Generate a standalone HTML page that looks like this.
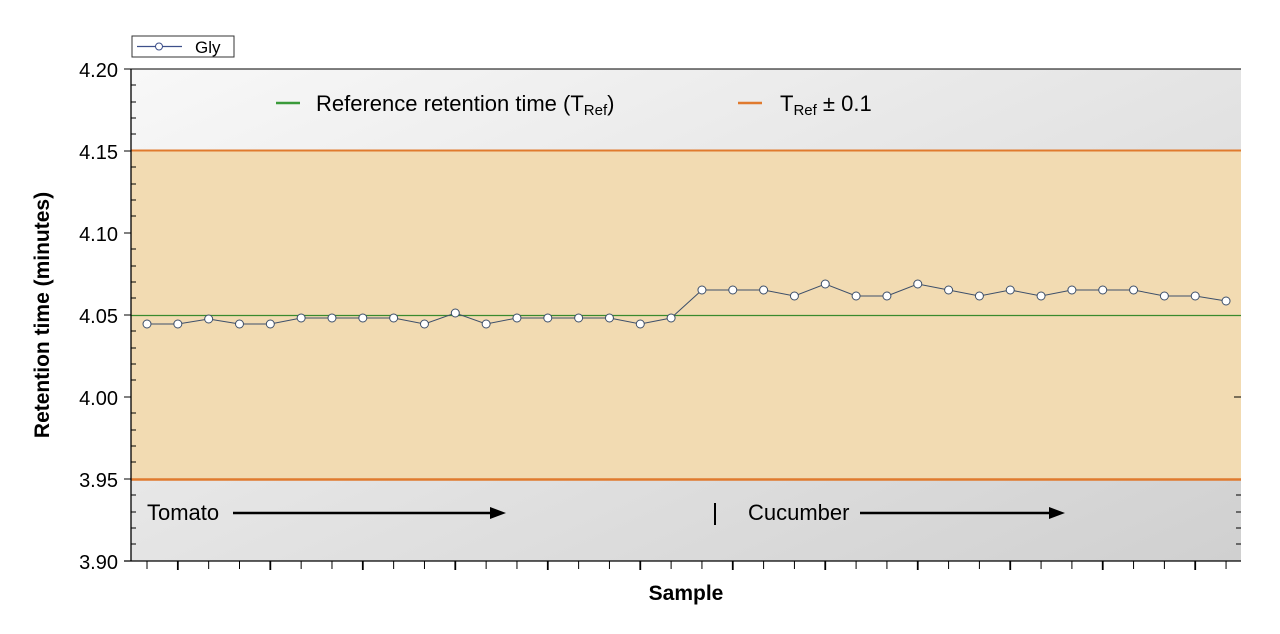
<!DOCTYPE html>
<html><head><style>body{margin:0;background:#fff}svg{display:block;font-family:"Liberation Sans",Arial,sans-serif}</style></head><body>
<svg width="1280" height="634" viewBox="0 0 1280 634">
<defs>
<linearGradient id="bg" x1="0" y1="0" x2="1" y2="1"><stop offset="0" stop-color="#f8f8f8"/><stop offset="1" stop-color="#d0d0d0"/></linearGradient>
</defs>
<rect x="131" y="69" width="1110" height="492" fill="url(#bg)"/>
<rect x="131" y="151" width="1110" height="328" fill="#f2dbb2"/>
<line x1="131" y1="150.5" x2="1241" y2="150.5" stroke="#e07a2e" stroke-width="2"/>
<line x1="131" y1="479.5" x2="1241" y2="479.5" stroke="#e07a2e" stroke-width="2.5"/>
<line x1="131" y1="315.5" x2="1241" y2="315.5" stroke="#3a8a2e" stroke-width="1.2"/>
<line x1="131" y1="69" x2="131" y2="561" stroke="#000" stroke-width="1.3"/>
<line x1="124" y1="561" x2="1241" y2="561" stroke="#000" stroke-width="1.3"/>
<line x1="124" y1="69" x2="1241" y2="69" stroke="#000" stroke-width="1"/>
<g stroke="#000" stroke-width="1">
<line x1="124" y1="151" x2="131" y2="151"/><line x1="124" y1="233" x2="131" y2="233"/><line x1="124" y1="315" x2="131" y2="315"/><line x1="124" y1="397" x2="131" y2="397"/><line x1="124" y1="479" x2="131" y2="479"/>
<line x1="131" y1="85" x2="136" y2="85"/><line x1="131" y1="102" x2="136" y2="102"/><line x1="131" y1="118" x2="136" y2="118"/><line x1="131" y1="134" x2="136" y2="134"/>
<line x1="131" y1="167" x2="136" y2="167"/><line x1="131" y1="184" x2="136" y2="184"/><line x1="131" y1="200" x2="136" y2="200"/><line x1="131" y1="216" x2="136" y2="216"/>
<line x1="131" y1="249" x2="136" y2="249"/><line x1="131" y1="266" x2="136" y2="266"/><line x1="131" y1="282" x2="136" y2="282"/><line x1="131" y1="298" x2="136" y2="298"/>
<line x1="131" y1="331" x2="136" y2="331"/><line x1="131" y1="348" x2="136" y2="348"/><line x1="131" y1="364" x2="136" y2="364"/><line x1="131" y1="380" x2="136" y2="380"/>
<line x1="131" y1="413" x2="136" y2="413"/><line x1="131" y1="430" x2="136" y2="430"/><line x1="131" y1="446" x2="136" y2="446"/><line x1="131" y1="462" x2="136" y2="462"/>
<line x1="131" y1="495" x2="136" y2="495"/><line x1="131" y1="512" x2="136" y2="512"/><line x1="131" y1="528" x2="136" y2="528"/><line x1="131" y1="544" x2="136" y2="544"/>
<line x1="1234" y1="397" x2="1241" y2="397"/>
<line x1="1236" y1="495" x2="1241" y2="495"/><line x1="1236" y1="512" x2="1241" y2="512"/><line x1="1236" y1="528" x2="1241" y2="528"/><line x1="1236" y1="544" x2="1241" y2="544"/>
</g>
<g id="xt" stroke="#000" stroke-width="1"></g>
<g font-size="20" text-anchor="end" fill="#000">
<text x="118" y="77">4.20</text><text x="118" y="159">4.15</text><text x="118" y="241">4.10</text><text x="118" y="323">4.05</text><text x="118" y="405">4.00</text><text x="118" y="487">3.95</text><text x="118" y="569">3.90</text>
</g>
<text x="686" y="600" font-size="21" font-weight="bold" text-anchor="middle">Sample</text>
<text transform="translate(49,315) rotate(-90)" font-size="21" font-weight="bold" text-anchor="middle">Retention time (minutes)</text>
<rect x="132" y="36" width="102" height="21" fill="#fff" stroke="#333" stroke-width="1"/>
<line x1="137" y1="46.5" x2="182" y2="46.5" stroke="#3d4f8a" stroke-width="1.2"/>
<circle cx="159" cy="46.5" r="3.5" fill="#fff" stroke="#3d4f8a"/>
<text x="195" y="53" font-size="17">Gly</text>
<line x1="276" y1="103" x2="300" y2="103" stroke="#3a9a3a" stroke-width="2.5"/>
<text x="316" y="111" font-size="22">Reference retention time (T<tspan font-size="15" dy="4">Ref</tspan><tspan dy="-4">)</tspan></text>
<line x1="738" y1="103" x2="762" y2="103" stroke="#e07a2e" stroke-width="2.5"/>
<text x="780" y="111" font-size="22">T<tspan font-size="15" dy="4">Ref</tspan><tspan dy="-4"> ± 0.1</tspan></text>
<text x="147" y="520" font-size="22">Tomato</text>
<line x1="233" y1="513" x2="492" y2="513" stroke="#000" stroke-width="2.5"/>
<polygon points="490,507 506,513 490,519" fill="#000"/>
<line x1="715" y1="503" x2="715" y2="525" stroke="#000" stroke-width="2"/>
<text x="748" y="520" font-size="22">Cucumber</text>
<line x1="860" y1="513" x2="1051" y2="513" stroke="#000" stroke-width="2.5"/>
<polygon points="1049,507 1065,513 1049,519" fill="#000"/>
<g id="data"></g>
<script>
var ys=[324,324,319,324,324,318,318,318,318,324,313,324,318,318,318,318,324,318,290,290,290,296,284,296,296,284,290,296,290,296,290,290,290,296,296,301];
var ns="http://www.w3.org/2000/svg",g=document.getElementById('data'),xt=document.getElementById('xt');
var pts=ys.map(function(y,i){return [147+i*30.83,y]});
var pl=document.createElementNS(ns,'polyline');
pl.setAttribute('points',pts.map(function(p){return p.join(',')}).join(' '));
pl.setAttribute('fill','none');pl.setAttribute('stroke','#3d4f6a');pl.setAttribute('stroke-width','1');g.appendChild(pl);
pts.forEach(function(p,i){var c=document.createElementNS(ns,'circle');c.setAttribute('cx',p[0]);c.setAttribute('cy',p[1]);c.setAttribute('r','4');c.setAttribute('fill','#fff');c.setAttribute('stroke','#3d4f6a');g.appendChild(c);
var l=document.createElementNS(ns,'line');l.setAttribute('x1',p[0]);l.setAttribute('x2',p[0]);l.setAttribute('y1',561);l.setAttribute('y2',(i%3==1)?570:569);l.setAttribute('stroke-width',(i%3==1)?1.8:1);xt.appendChild(l);});
</script>
</svg>
</body></html>
